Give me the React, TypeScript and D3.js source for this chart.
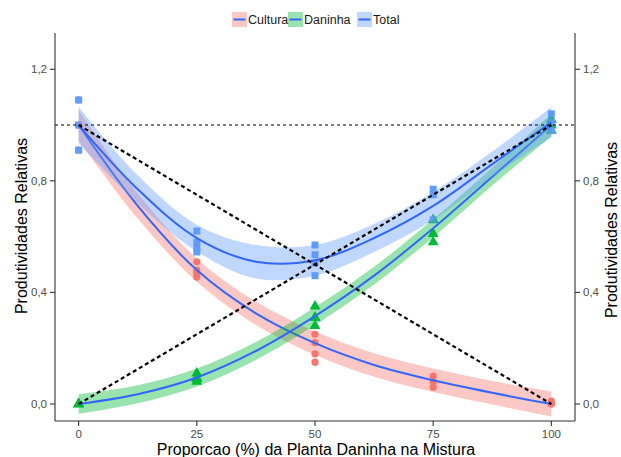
import React from "react";
import * as d3 from "d3";

// ---------- data ----------
const fitX = [0, 12.5, 25, 37.5, 50, 62.5, 75, 87.5, 100];
const culturaFit = [1.0, 0.71, 0.48, 0.325, 0.218, 0.14, 0.085, 0.04, 0.0];
const culturaSE = [0.055, 0.045, 0.042, 0.042, 0.042, 0.042, 0.042, 0.042, 0.045];
const daninhaFit = [0.0, 0.035, 0.095, 0.19, 0.315, 0.46, 0.63, 0.815, 1.0];
const daninhaSE = [0.035, 0.032, 0.032, 0.032, 0.032, 0.032, 0.032, 0.032, 0.04];
const totalFit = [1.0, 0.77, 0.595, 0.51, 0.515, 0.595, 0.71, 0.86, 1.01];
const totalSE = [0.065, 0.05, 0.048, 0.06, 0.055, 0.05, 0.05, 0.045, 0.055];

const obsX = [0, 0, 0, 25, 25, 25, 25, 50, 50, 50, 50, 75, 75, 75, 100, 100, 100];
const culturaObs = [1.09, 1.0, 0.91, 0.51, 0.48, 0.47, 0.455, 0.25, 0.22, 0.18, 0.15, 0.1, 0.08, 0.06, 0.0, 0.0, 0.01];
const daninhaObs = [0.0, 0.0, 0.0, 0.11, 0.095, 0.09, 0.08, 0.35, 0.31, 0.31, 0.28, 0.66, 0.61, 0.58, 1.02, 1.0, 0.98];
const totalObs = [1.09, 1.0, 0.91, 0.62, 0.58, 0.56, 0.545, 0.57, 0.535, 0.505, 0.46, 0.77, 0.75, 0.66, 1.04, 1.01, 0.98];

const xTicks = [0, 25, 50, 75, 100];
const yTicks = [0, 0.4, 0.8, 1.2];
const legendLabels = ["Cultura", "Daninha", "Total"];

const pointColors = ["#F8766D", "#00BA38", "#619CFF"];
const bandColors = ["#F8766D", "#00BA38", "#619CFF"];
const lineColor = "#3366FF";

const FONT = "'Liberation Sans', Arial, Helvetica, sans-serif";

export default function App() {
  const W = 621, H = 457;
  const x = d3.scaleLinear().domain([-5, 105]).range([55, 575]);
  const y = d3.scaleLinear().domain([-0.061, 1.33]).range([421, 33]);

  const fits = [
    { fit: culturaFit, se: culturaSE },
    { fit: daninhaFit, se: daninhaSE },
    { fit: totalFit, se: totalSE },
  ];
  const curve = d3.curveCatmullRom.alpha(0.5);
  const line = d3.line<number>().x((_, i) => x(fitX[i])).y((d) => y(d)).curve(curve);
  const area = (f: number[], s: number[]) =>
    d3
      .area<number>()
      .x((_, i) => x(fitX[i]))
      .y0((d, i) => y(d - s[i]))
      .y1((d, i) => y(d + s[i]))
      .curve(curve)(f) as string;

  const fmt = (v: number) => d3.format(".1f")(v).replace(".", ",");

  const tri = d3.symbol().type(d3.symbolTriangle).size(52)() as string;

  return (
    <svg width={W} height={H} style={{ position: "absolute", left: 0, top: 0, background: "#fff" }}>
      {/* points */}
      {culturaObs.map((v, i) => (
        <circle key={"c" + i} cx={x(obsX[i])} cy={y(v)} r={3.6} fill={pointColors[0]} />
      ))}
      {daninhaObs.map((v, i) => (
        <path key={"d" + i} d={tri} transform={`translate(${x(obsX[i])},${y(v)})`} fill={pointColors[1]} />
      ))}
      {totalObs.map((v, i) => (
        <rect key={"t" + i} x={x(obsX[i]) - 3.5} y={y(v) - 3.5} width={7} height={7} fill={pointColors[2]} />
      ))}

      {/* smooths */}
      {fits.map((f, k) => (
        <g key={"s" + k}>
          <path d={area(f.fit, f.se)} fill={bandColors[k]} fillOpacity={0.4} />
          <path d={line(f.fit) as string} fill="none" stroke={lineColor} strokeWidth={2} />
        </g>
      ))}

      {/* reference lines */}
      <line x1={55} x2={575} y1={y(1)} y2={y(1)} stroke="#000" strokeWidth={1.1} strokeDasharray="3,3" />
      <line x1={x(0)} x2={x(100)} y1={y(1)} y2={y(0)} stroke="#000" strokeWidth={2.2} strokeDasharray="4,3" />
      <line x1={x(0)} x2={x(100)} y1={y(0)} y2={y(1)} stroke="#000" strokeWidth={2.2} strokeDasharray="4,3" />

      {/* axes */}
      <line x1={55} x2={55} y1={33} y2={421} stroke="#333" strokeWidth={1.1} />
      <line x1={575} x2={575} y1={33} y2={421} stroke="#333" strokeWidth={1.1} />
      <line x1={55} x2={575} y1={421} y2={421} stroke="#333" strokeWidth={1.1} />
      {yTicks.map((t) => (
        <g key={"y" + t}>
          <line x1={50} x2={55} y1={y(t)} y2={y(t)} stroke="#333" strokeWidth={1.1} />
          <text x={47} y={y(t)} dy="0.35em" textAnchor="end" fontFamily={FONT} fontSize={11.5} fill="#4D4D4D">
            {fmt(t)}
          </text>
          <line x1={575} x2={580} y1={y(t)} y2={y(t)} stroke="#333" strokeWidth={1.1} />
          <text x={583} y={y(t)} dy="0.35em" textAnchor="start" fontFamily={FONT} fontSize={11.5} fill="#4D4D4D">
            {fmt(t)}
          </text>
        </g>
      ))}
      {xTicks.map((t) => (
        <g key={"x" + t}>
          <line x1={x(t)} x2={x(t)} y1={421} y2={426} stroke="#333" strokeWidth={1.1} />
          <text x={x(t)} y={438} textAnchor="middle" fontFamily={FONT} fontSize={11.5} fill="#4D4D4D">
            {t}
          </text>
        </g>
      ))}

      {/* titles */}
      <text x={316} y={455} textAnchor="middle" fontFamily={FONT} fontSize={16} fill="#000">
        Proporcao (%) da Planta Daninha na Mistura
      </text>
      <text transform={`translate(27,226) rotate(-90)`} textAnchor="middle" fontFamily={FONT} fontSize={16} fill="#000">
        Produtividades Relativas
      </text>
      <text transform={`translate(617,230) rotate(-90)`} textAnchor="middle" fontFamily={FONT} fontSize={16} fill="#000">
        Produtividades Relativas
      </text>

      {/* legend */}
      {(() => {
        const keyX = [232, 288, 357];
        return legendLabels.map((lab, k) => (
          <g key={"l" + k}>
            <rect x={keyX[k]} y={12} width={15} height={15} fill={bandColors[k]} fillOpacity={0.4} />
            <line x1={keyX[k] + 1.5} x2={keyX[k] + 13.5} y1={19.5} y2={19.5} stroke={lineColor} strokeWidth={2} />
            <text x={keyX[k] + 16} y={19.5} dy="0.35em" fontFamily={FONT} fontSize={12.5} fill="#1A1A1A">
              {lab}
            </text>
          </g>
        ));
      })()}
    </svg>
  );
}
